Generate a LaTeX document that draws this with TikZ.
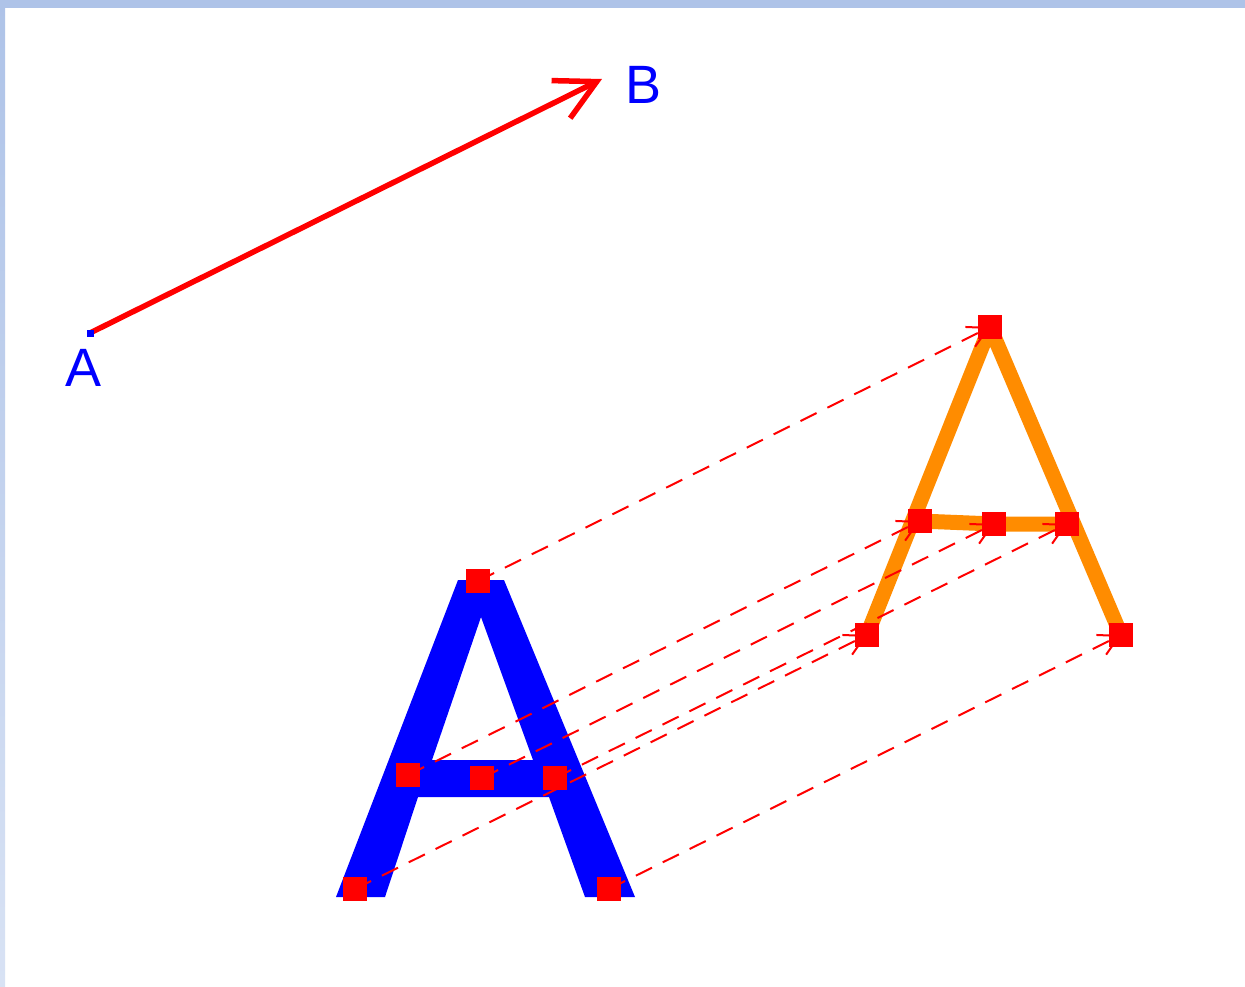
\documentclass[tikz,border=0pt]{standalone}
\usepackage{fontspec}
\setmainfont{Liberation Sans}
\usetikzlibrary{arrows.meta}
\definecolor{geoblue}{RGB}{0,0,255}
\definecolor{geored}{RGB}{255,0,0}
\definecolor{geoorange}{RGB}{255,140,0}
\definecolor{frametop}{RGB}{174,195,232}
\definecolor{framebot}{RGB}{216,226,244}
\begin{document}
\begin{tikzpicture}[x=1pt,y=-1pt,
  rsq/.style={rectangle,fill=geored,draw=none,minimum size=24pt,inner sep=0pt},
  bsq/.style={rectangle,fill=geoblue,draw=none,minimum size=7pt,inner sep=0pt},
  vec/.style={geored,line width=2pt,dash pattern=on 18pt off 12pt,
    -{Straight Barb[length=20pt,width=22pt]}},
  mainvec/.style={geored,line width=5.5pt,-{Straight Barb[length=40pt,width=42pt]}},
  orangeline/.style={geoorange,line width=15pt,line join=round},
  lbl/.style={geoblue,inner sep=0pt,font=\fontsize{54}{54}\selectfont}]
\useasboundingbox (0,0) rectangle (1245,986);
\fill[white] (0,0) rectangle (1245,986);
\shade[top color=frametop,bottom color=framebot] (0,0) rectangle (5,986);
\fill[frametop] (0,0) rectangle (1245,8);

% points of the original A
\coordinate (P1) at (478,581);
\coordinate (P2) at (355,889);
\coordinate (P3) at (609,889);
\coordinate (P4) at (408,775);
\coordinate (P5) at (482,778);
\coordinate (P6) at (555,778);
% translated points
\coordinate (Q1) at (990,327);
\coordinate (Q2) at (867,635);
\coordinate (Q3) at (1121,635);
\coordinate (Q4) at (920,521);
\coordinate (Q5) at (994,524);
\coordinate (Q6) at (1067,524);
% vector AB
\coordinate (pA) at (90,333);
\coordinate (pB) at (602,79);

% blue letter A
\fill[geoblue,even odd rule] (336,897) -- (458,580) -- (504,580) -- (635,897) -- (585,897)
  -- (549,797) -- (418,797) -- (385,897) -- cycle
  (481,617) -- (533,760) -- (432,760) -- cycle;

% orange translated A
\draw[orangeline] (Q2) -- (Q1) -- (Q3);
\draw[orangeline] (Q4) -- (Q5) -- (Q6);

% translation vectors
\draw[vec] (P1) -- (Q1);
\draw[vec] (P2) -- (Q2);
\draw[vec] (P3) -- (Q3);
\draw[vec] (P4) -- (Q4);
\draw[vec] (P5) -- (Q5);
\draw[vec] (P6) -- (Q6);

% red point markers
\foreach \i in {1,...,6}{
  \node[rsq] (sP\i) at (P\i) {};
  \node[rsq] (sQ\i) at (Q\i) {};
}

% vector AB
\draw[mainvec] (pA) -- (pB);
\node[bsq] (ptA) at (pA) {};
\node[lbl] (labA) at (84,368) {A};
\node[lbl] (labB) at (644,85) {B};
\end{tikzpicture}
\end{document}
